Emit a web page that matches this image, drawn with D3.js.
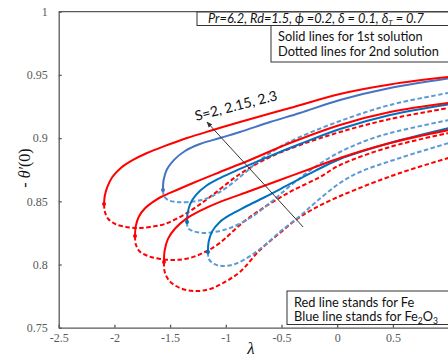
<!DOCTYPE html>
<html>
<head>
<meta charset="utf-8">
<script src="https://cdn.jsdelivr.net/npm/d3@7"></script>
<style>
  body { margin: 0; background: #fff; }
  svg { display: block; }
  .tick text { font-family: 'Liberation Serif', serif; font-size: 12px; fill: #595959; }
  .note { font-family: Lato, 'Liberation Sans', sans-serif; font-size: 12.8px; fill: #111; }
</style>
</head>
<body>
<div id="chart"></div>
<script>
// Axis ticks (the label for lambda = 1 falls outside the picture)
var lambdaTicks = [-2.5, -2, -1.5, -1, -0.5, 0, 0.5];
var thetaTicks = [0.75, 0.8, 0.85, 0.9, 0.95, 1];

// Fe (red): [lambda, -theta'(0)], first solution = solid, second = dashed
var feS1First = [[-2.093, 0.8479], [-2.087, 0.8540], [-2.065, 0.8610], [-2.020, 0.8690], [-1.945, 0.8762], [-1.833, 0.8827], [-1.707, 0.8882], [-1.546, 0.8938], [-1.348, 0.9001], [-1.115, 0.9064], [-0.873, 0.9127], [-0.424, 0.9238], [0.025, 0.9349], [0.474, 0.9424], [1.0, 0.9483]];
var feS1Second = [[-2.093, 0.8479], [-2.086, 0.8420], [-2.055, 0.8360], [-1.990, 0.8320], [-1.896, 0.8297], [-1.797, 0.8289], [-1.680, 0.8297], [-1.546, 0.8321], [-1.348, 0.8408], [-1.142, 0.8534], [-0.873, 0.8716], [-0.603, 0.8850], [-0.334, 0.8945], [0.025, 0.9048], [0.474, 0.9151], [1.0, 0.9238]];
var feS2First = [[-1.815, 0.8226], [-1.809, 0.8300], [-1.780, 0.8380], [-1.725, 0.8445], [-1.653, 0.8495], [-1.582, 0.8534], [-1.501, 0.8566], [-1.294, 0.8645], [-1.052, 0.8732], [-0.783, 0.8827], [-0.424, 0.8961], [0.025, 0.9104], [0.474, 0.9206], [1.0, 0.9278]];
var feS2Second = [[-1.815, 0.8226], [-1.808, 0.8160], [-1.775, 0.8105], [-1.698, 0.8067], [-1.591, 0.8044], [-1.456, 0.8036], [-1.321, 0.8052], [-1.187, 0.8099], [-1.052, 0.8171], [-0.873, 0.8313], [-0.693, 0.8431], [-0.424, 0.8574], [-0.155, 0.8692], [0.025, 0.8787], [0.474, 0.8930], [1.0, 0.9040]];
var feS3First = [[-1.555, 0.8020], [-1.549, 0.8110], [-1.518, 0.8205], [-1.455, 0.8285], [-1.357, 0.8361], [-1.232, 0.8424], [-1.052, 0.8495], [-0.783, 0.8581], [-0.514, 0.8669], [-0.244, 0.8756], [0.025, 0.8843], [0.474, 0.8961], [1.0, 0.9064]];
var feS3Second = [[-1.555, 0.8020], [-1.549, 0.7945], [-1.508, 0.7872], [-1.411, 0.7814], [-1.276, 0.7790], [-1.142, 0.7806], [-1.007, 0.7862], [-0.873, 0.7941], [-0.693, 0.8115], [-0.514, 0.8250], [-0.334, 0.8376], [-0.109, 0.8487], [0.178, 0.8597], [0.564, 0.8724], [1.0, 0.8843]];

// Fe2O3 (blue)
var fe2o3S1First = [[-1.564, 0.8589], [-1.558, 0.8670], [-1.527, 0.8755], [-1.462, 0.8830], [-1.366, 0.8898], [-1.232, 0.8953], [-1.052, 0.9001], [-0.873, 0.9048], [-0.603, 0.9127], [-0.334, 0.9199], [0.025, 0.9301], [0.474, 0.9396], [1.0, 0.9472]];
var fe2o3S1Second = [[-1.564, 0.8589], [-1.555, 0.8542], [-1.519, 0.8510], [-1.438, 0.8495], [-1.321, 0.8495], [-1.187, 0.8518], [-1.052, 0.8574], [-0.873, 0.8692], [-0.693, 0.8827], [-0.514, 0.8930], [-0.334, 0.9009], [0.025, 0.9135], [0.474, 0.9262], [1.0, 0.9357]];
var fe2o3S2First = [[-1.348, 0.8337], [-1.342, 0.8410], [-1.318, 0.8482], [-1.265, 0.8553], [-1.178, 0.8621], [-1.052, 0.8684], [-0.873, 0.8756], [-0.603, 0.8858], [-0.334, 0.8953], [0.025, 0.9072], [0.474, 0.9183], [1.0, 0.9267]];
var fe2o3S2Second = [[-1.348, 0.8337], [-1.340, 0.8289], [-1.294, 0.8264], [-1.205, 0.8250], [-1.097, 0.8258], [-0.962, 0.8289], [-0.783, 0.8368], [-0.603, 0.8487], [-0.424, 0.8621], [-0.199, 0.8772], [0.025, 0.8890], [0.250, 0.8977], [0.474, 0.9040], [1.0, 0.9143]];
var fe2o3S3First = [[-1.160, 0.8099], [-1.154, 0.8180], [-1.122, 0.8262], [-1.058, 0.8333], [-0.962, 0.8392], [-0.828, 0.8455], [-0.648, 0.8534], [-0.424, 0.8637], [-0.199, 0.8740], [0.025, 0.8835], [0.474, 0.8961], [1.0, 0.9078]];
var fe2o3S3Second = [[-1.160, 0.8099], [-1.152, 0.8044], [-1.106, 0.8004], [-1.025, 0.7988], [-0.917, 0.8004], [-0.783, 0.8067], [-0.648, 0.8154], [-0.514, 0.8258], [-0.334, 0.8384], [-0.181, 0.8502], [0.025, 0.8645], [0.204, 0.8732], [0.564, 0.8843], [1.0, 0.8961]];

// Arrow for increasing S: [tail, head]
var arrowS = [[-0.306, 0.8297], [-1.169, 0.9127]];

var svgWidth = 448;
var svgHeight = 358;

var svg = d3.select('#chart').append('svg').attr('width', svgWidth).attr('height', svgHeight);

// Scales; right end of the plot runs off the picture, as in the source
var x = d3.scaleLinear().domain([-2.5, 1]).range([58.7, 448.6]);
var y = d3.scaleLinear().domain([0.75, 1]).range([327.7, 11.7]);

// Axes, ticks point inward
svg.append('g')
	.attr('transform', `translate(0, ${y(0.75)})`)
	.call(d3.axisBottom(x).tickValues(lambdaTicks).tickSizeInner(-3).tickSizeOuter(0).tickPadding(6).tickFormat((d) => String(d)));
svg.append('g')
	.attr('transform', `translate(${x(-2.5)}, 0)`)
	.call(d3.axisLeft(y).tickValues(thetaTicks).tickSizeInner(-3).tickSizeOuter(0).tickPadding(11).tickFormat((d) => String(d)));
svg.selectAll('.domain, .tick line').attr('stroke', '#595959').attr('stroke-width', 1.3);

// top border of the plot area
svg.append('line')
	.attr('x1', x(-2.5)).attr('x2', svgWidth)
	.attr('y1', y(1)).attr('y2', y(1))
	.attr('stroke', '#595959').attr('stroke-width', 1.3);

var line = d3.line()
	.x((d) => x(d[0]))
	.y((d) => y(d[1]))
	.curve(d3.curveCatmullRom.alpha(0.5));

var plot = svg.append('g');

var series = [
	{ data: feS1Second, color: '#ff0000', dash: '4.5,2.5' },
	{ data: feS2Second, color: '#ff0000', dash: '4.5,2.5' },
	{ data: feS3Second, color: '#ff0000', dash: '4.5,2.5' },
	{ data: fe2o3S1Second, color: '#5b9bd5', dash: '4.5,2.5' },
	{ data: fe2o3S2Second, color: '#5b9bd5', dash: '4.5,2.5' },
	{ data: fe2o3S3Second, color: '#5b9bd5', dash: '4.5,2.5' },
	{ data: fe2o3S1First, color: '#4472c4', dash: null },
	{ data: fe2o3S2First, color: '#0070c0', dash: null },
	{ data: fe2o3S3First, color: '#0070c0', dash: null },
	{ data: feS1First, color: '#ff0000', dash: null },
	{ data: feS2First, color: '#ff0000', dash: null },
	{ data: feS3First, color: '#ff0000', dash: null }
];

series.forEach(function(s) {
	plot.append('path')
		.datum(s.data)
		.attr('d', line)
		.attr('fill', 'none')
		.attr('stroke', s.color)
		.attr('stroke-width', 2)
		.attr('stroke-dasharray', s.dash);
});

// turning point markers
series.filter((s) => s.dash === null).forEach(function(s) {
	plot.append('circle')
		.attr('cx', x(s.data[0][0]))
		.attr('cy', y(s.data[0][1]))
		.attr('r', 2)
		.attr('fill', s.color);
});

// arrow
var defs = svg.append('defs');
defs.append('marker')
	.attr('id', 'head')
	.attr('viewBox', '0 0 10 10')
	.attr('refX', 9).attr('refY', 5)
	.attr('markerWidth', 6).attr('markerHeight', 6)
	.attr('orient', 'auto')
	.append('path').attr('d', 'M0,1L10,5L0,9Z').attr('fill', '#333');

svg.append('line')
	.attr('x1', x(arrowS[0][0])).attr('y1', y(arrowS[0][1]))
	.attr('x2', x(arrowS[1][0])).attr('y2', y(arrowS[1][1]))
	.attr('stroke', '#333').attr('stroke-width', 1)
	.attr('marker-end', 'url(#head)');

svg.append('text')
	.attr('transform', `translate(${x(-1.266)}, ${y(0.9135)}) rotate(-14.5)`)
	.attr('font-family', "Lato, 'Liberation Sans', sans-serif")
	.attr('font-size', 14)
	.attr('fill', '#111')
	.text('S=2, 2.15, 2.3');

// Parameter box
svg.append('rect')
	.attr('x', 197).attr('y', 12).attr('width', 260).attr('height', 13.5)
	.attr('fill', '#fff').attr('stroke', '#333').attr('stroke-width', 1);
var par = svg.append('text')
	.attr('class', 'note')
	.attr('x', 208).attr('y', 22.5)
	.attr('font-style', 'italic');
par.append('tspan').text('Pr=6.2, Rd=1.5, \u03d5 =0.2, \u03b4 = 0.1, \u03b4');
par.append('tspan').attr('font-size', 8).attr('dy', 3).text('T');
par.append('tspan').attr('dy', -3).text(' =  0.7');

// Solution box
svg.append('rect')
	.attr('x', 271).attr('y', 25.5).attr('width', 190).attr('height', 36.5)
	.attr('fill', '#fff').attr('stroke', '#333').attr('stroke-width', 1);
svg.append('text').attr('class', 'note').attr('x', 278).attr('y', 40.5).text('Solid lines for 1st solution');
svg.append('text').attr('class', 'note').attr('x', 278).attr('y', 55.5).text('Dotted lines for 2nd solution');

// Material box
svg.append('rect')
	.attr('x', 287).attr('y', 291).attr('width', 180).attr('height', 33.5)
	.attr('fill', '#fff').attr('stroke', '#333').attr('stroke-width', 1);
svg.append('text').attr('class', 'note').attr('x', 294).attr('y', 306.5).text('Red line stands for Fe');
var blueNote = svg.append('text').attr('class', 'note').attr('x', 294).attr('y', 321);
blueNote.append('tspan').text('Blue line stands for Fe');
blueNote.append('tspan').attr('font-size', 8.5).attr('dy', 3).text('2');
blueNote.append('tspan').attr('dy', -3).text('O');
blueNote.append('tspan').attr('font-size', 8.5).attr('dy', 3).text('3');

// Axis titles
var yTitle = svg.append('text')
	.attr('transform', 'translate(30, 168) rotate(-90)')
	.attr('text-anchor', 'middle')
	.attr('font-family', "'Liberation Serif', serif")
	.attr('font-size', 16)
	.attr('fill', '#111');
yTitle.append('tspan').text('- ');
yTitle.append('tspan').attr('font-style', 'italic').text('\u03b8\u2032');
yTitle.append('tspan').text('(0)');

svg.append('text')
	.attr('x', x(-0.775)).attr('y', 354)
	.attr('text-anchor', 'middle')
	.attr('font-family', "'Liberation Serif', serif")
	.attr('font-style', 'italic')
	.attr('font-size', 17)
	.attr('fill', '#111')
	.text('\u03bb');
</script>
</body>
</html>
